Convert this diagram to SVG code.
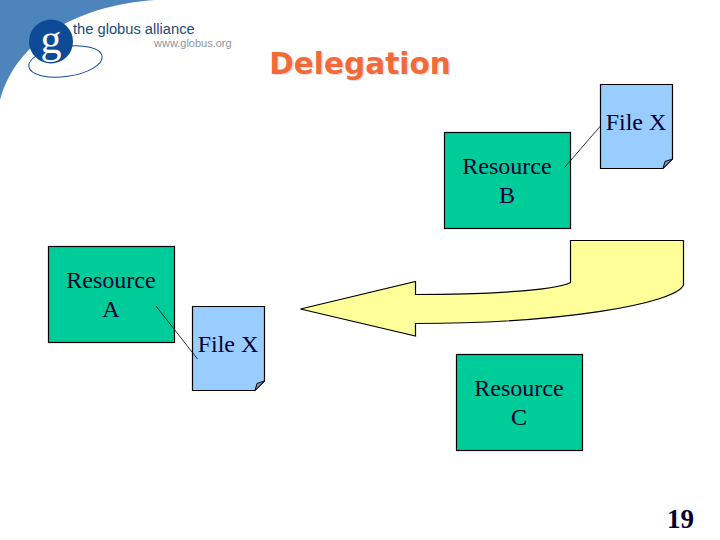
<svg xmlns="http://www.w3.org/2000/svg" width="720" height="540" viewBox="0 0 720 540">
<style>
.box{fill:#00cc99;stroke:#000;stroke-width:1.2}
.file{fill:#99ccff;stroke:#000;stroke-width:1.2}
.fold{fill:#7f96c4;stroke:#000;stroke-width:1}
.t{font-family:"Liberation Serif","Times New Roman",serif;font-size:24px;fill:#000033;text-anchor:middle}
.conn{stroke:#000;stroke-width:.8;fill:none}
.logo{font-family:"Liberation Sans",Arial,sans-serif}
.title{font-family:"DejaVu Sans",Verdana,sans-serif;font-weight:bold;font-size:29.600px;text-anchor:middle}
</style>
<rect width="720" height="540" fill="#fff"/>
<g id="logo">
<path d="M0 0H155C85 5 18 35 0 100Z" fill="#4d84bc"/>
<ellipse cx="65.500" cy="61.500" rx="37" ry="15" transform="rotate(-8 65.500 61.500)" fill="none" stroke="#0f4a96" stroke-width="1"/>
<circle cx="51" cy="41.500" r="22" fill="#0f4a96"/>
<text x="51" y="53" font-family="Liberation Serif,serif" font-size="42" fill="#fff" text-anchor="middle">g</text>
<text class="logo" x="73" y="34" font-size="14.700" fill="#234a78">the globus alliance</text>
<text class="logo" x="154" y="47" font-size="11" fill="#8a94a3">www.globus.org</text>
</g>
<g id="title">
<text class="title" x="361.500" y="75" fill="#e4dfda">Delegation</text>
<text class="title" x="360" y="74" fill="#f26a3a">Delegation</text>
</g>
<g id="resource-b">
<rect class="box" x="444.500" y="132.500" width="126" height="96"/>
<text class="t" x="507" y="173.500">Resource</text>
<text class="t" x="507" y="203">B</text>
</g>
<g id="file-x-top">
<path class="file" d="M600.500 84.500H672.500V159L663 168.500H600.500Z"/>
<path class="fold" d="M672.500 159L663 168.500L665 161.500Z"/>
<text class="t" x="636" y="130">File X</text>
</g>
<g id="resource-a">
<rect class="box" x="48.500" y="246.500" width="126" height="96"/>
<text class="t" x="111" y="288">Resource</text>
<text class="t" x="111" y="317">A</text>
</g>
<g id="file-x-bottom">
<path class="file" d="M192.500 306.500H264.500V381L255 390.500H192.500Z"/>
<path class="fold" d="M264.500 381L255 390.500L257 383.500Z"/>
<text class="t" x="228" y="352">File X</text>
</g>
<g id="resource-c">
<rect class="box" x="456.500" y="354.500" width="126" height="96"/>
<text class="t" x="519" y="395.500">Resource</text>
<text class="t" x="519" y="425">C</text>
</g>
<g id="connectors">
<line class="conn" x1="564.500" y1="167.500" x2="600.500" y2="126"/>
<line class="conn" x1="156" y1="306" x2="197.500" y2="359"/>
</g>
<g id="delegation-arrow">
<path d="M300.500 309L415.500 281.500V294.500C480 294.500 555 291 570.500 282.500V240.500H683.500V285C675 304 560 323.500 415.500 323.500V336Z" fill="#ffff99" stroke="#000" stroke-width="1.2"/>
</g>
<g id="page-number">
<text x="680.500" y="528" font-family="Liberation Serif,serif" font-weight="bold" font-size="27" fill="#000033" text-anchor="middle">19</text>
</g>
</svg>
